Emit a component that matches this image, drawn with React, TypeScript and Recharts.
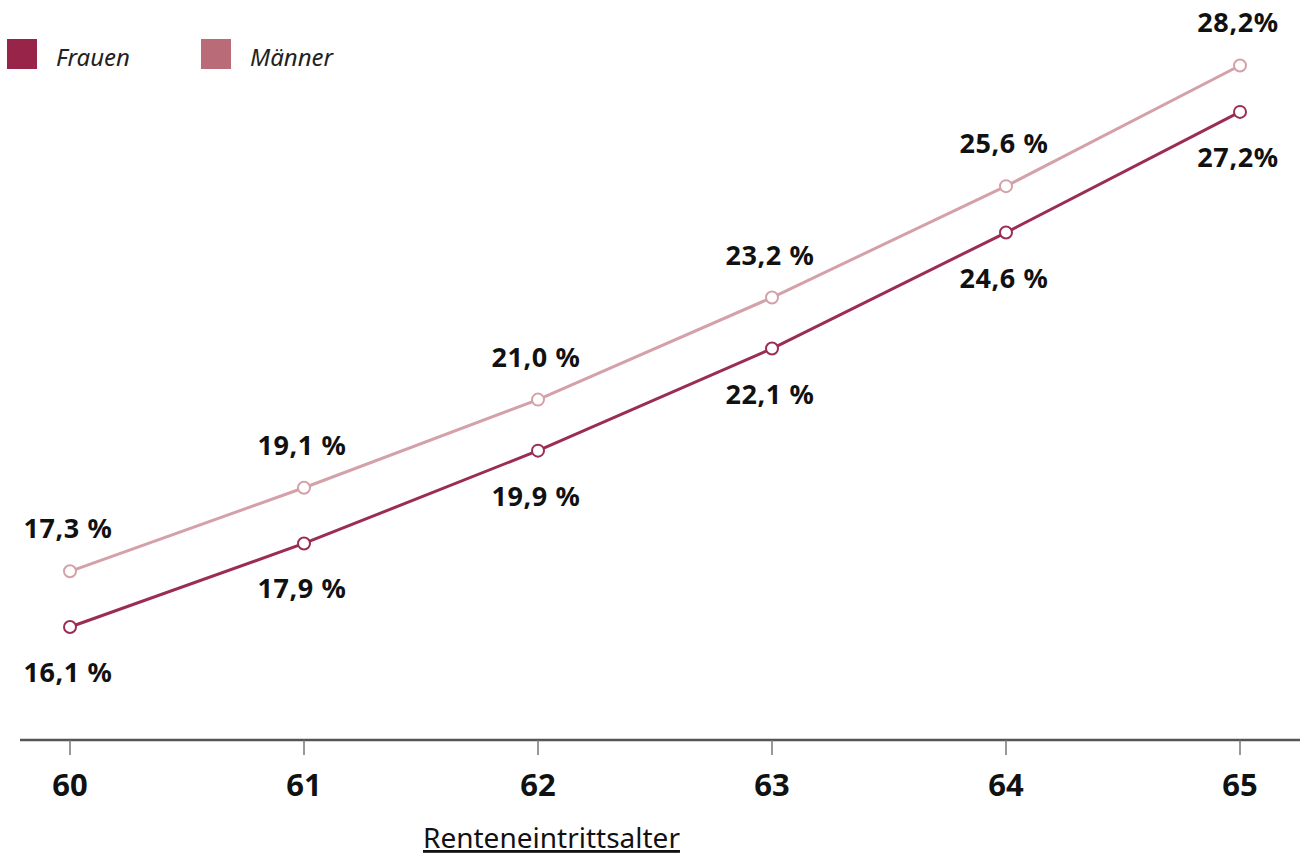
import React from "react";
import { LineChart, Line, XAxis, YAxis, LabelList, Label } from "recharts";

// Renteneintrittsalter und Werte je Geschlecht (in %)
const ages = ["60", "61", "62", "63", "64", "65"];
const frauen = [16.1, 17.9, 19.9, 22.1, 24.6, 27.2];
const maenner = [17.3, 19.1, 21.0, 23.2, 25.6, 28.2];
const frauenLabels = ["16,1 %", "17,9 %", "19,9 %", "22,1 %", "24,6 %", "27,2%"];
const maennerLabels = ["17,3 %", "19,1 %", "21,0 %", "23,2 %", "25,6 %", "28,2%"];

const data = ages.map((age, i) => ({
  age,
  frauen: frauen[i],
  maenner: maenner[i],
}));

const FONT = "'Noto Sans', sans-serif";
const FRAUEN_LINE = "#9b2c55";
const MAENNER_LINE = "#d4a1a9";
const FRAUEN_KEY = "#99244a";
const MAENNER_KEY = "#b96b78";

const makeLabel = (labels: string[], dy: number) => (props: any) => {
  const { x, y, index } = props;
  return (
    <text
      x={x - 2}
      y={y + dy}
      textAnchor="middle"
      fontFamily={FONT}
      fontWeight={700}
      fontSize={27}
      letterSpacing={0.6}
      fill="#111"
    >
      {labels[index]}
    </text>
  );
};

const AgeTick = (props: any) => {
  const { x, y, payload } = props;
  return (
    <text x={x} y={y + 39} textAnchor="middle" fontFamily={FONT} fontWeight={700} fontSize={31} fill="#111">
      {payload.value}
    </text>
  );
};

const LegendItem = ({ color, text, left }: { color: string; text: string; left: number }) => (
  <div style={{ position: "absolute", left, top: 39, display: "flex", alignItems: "center" }}>
    <div style={{ width: 30, height: 30, background: color }} />
    <span
      style={{
        marginLeft: 19,
        fontFamily: FONT,
        fontStyle: "italic",
        fontSize: 24,
        color: "#222",
        lineHeight: "30px",
        position: "relative",
        top: 3,
      }}
    >
      {text}
    </span>
  </div>
);

export default function App() {
  return (
    <div style={{ position: "absolute", left: 0, top: 0, width: 1300, height: 858, background: "#fff" }}>
      <LineChart width={1300} height={858} data={data} margin={{ top: 20, right: 0, left: 20, bottom: 0 }}>
        <XAxis
          dataKey="age"
          height={118}
          padding={{ left: 50, right: 60 }}
          axisLine={{ stroke: "#555", strokeWidth: 2.5 }}
          tickLine={{ stroke: "#777", strokeWidth: 1.5 }}
          tickSize={15}
          tick={<AgeTick />}
          interval={0}
        >
          <Label
            content={(p: any) => (
              <text
                x={p.viewBox.x + 403}
                y={p.viewBox.y + 108}
                fontFamily={FONT}
                fontSize={28}
                fill="#111"
                textDecoration="underline"
              >
                Renteneintrittsalter
              </text>
            )}
          />
        </XAxis>
        <YAxis hide type="number" domain={[13.665, 29.18]} allowDataOverflow />
        <Line
          type="linear"
          dataKey="maenner"
          stroke={MAENNER_LINE}
          strokeWidth={3}
          dot={{ r: 6, fill: "#fff", stroke: MAENNER_LINE, strokeWidth: 2 }}
          isAnimationActive={false}
        >
          <LabelList dataKey="maenner" content={makeLabel(maennerLabels, -33)} />
        </Line>
        <Line
          type="linear"
          dataKey="frauen"
          stroke={FRAUEN_LINE}
          strokeWidth={3}
          dot={{ r: 6, fill: "#fff", stroke: FRAUEN_LINE, strokeWidth: 2 }}
          isAnimationActive={false}
        >
          <LabelList dataKey="frauen" content={makeLabel(frauenLabels, 55)} />
        </Line>
      </LineChart>
      <LegendItem color={FRAUEN_KEY} text="Frauen" left={7} />
      <LegendItem color={MAENNER_KEY} text="Männer" left={201} />
    </div>
  );
}
